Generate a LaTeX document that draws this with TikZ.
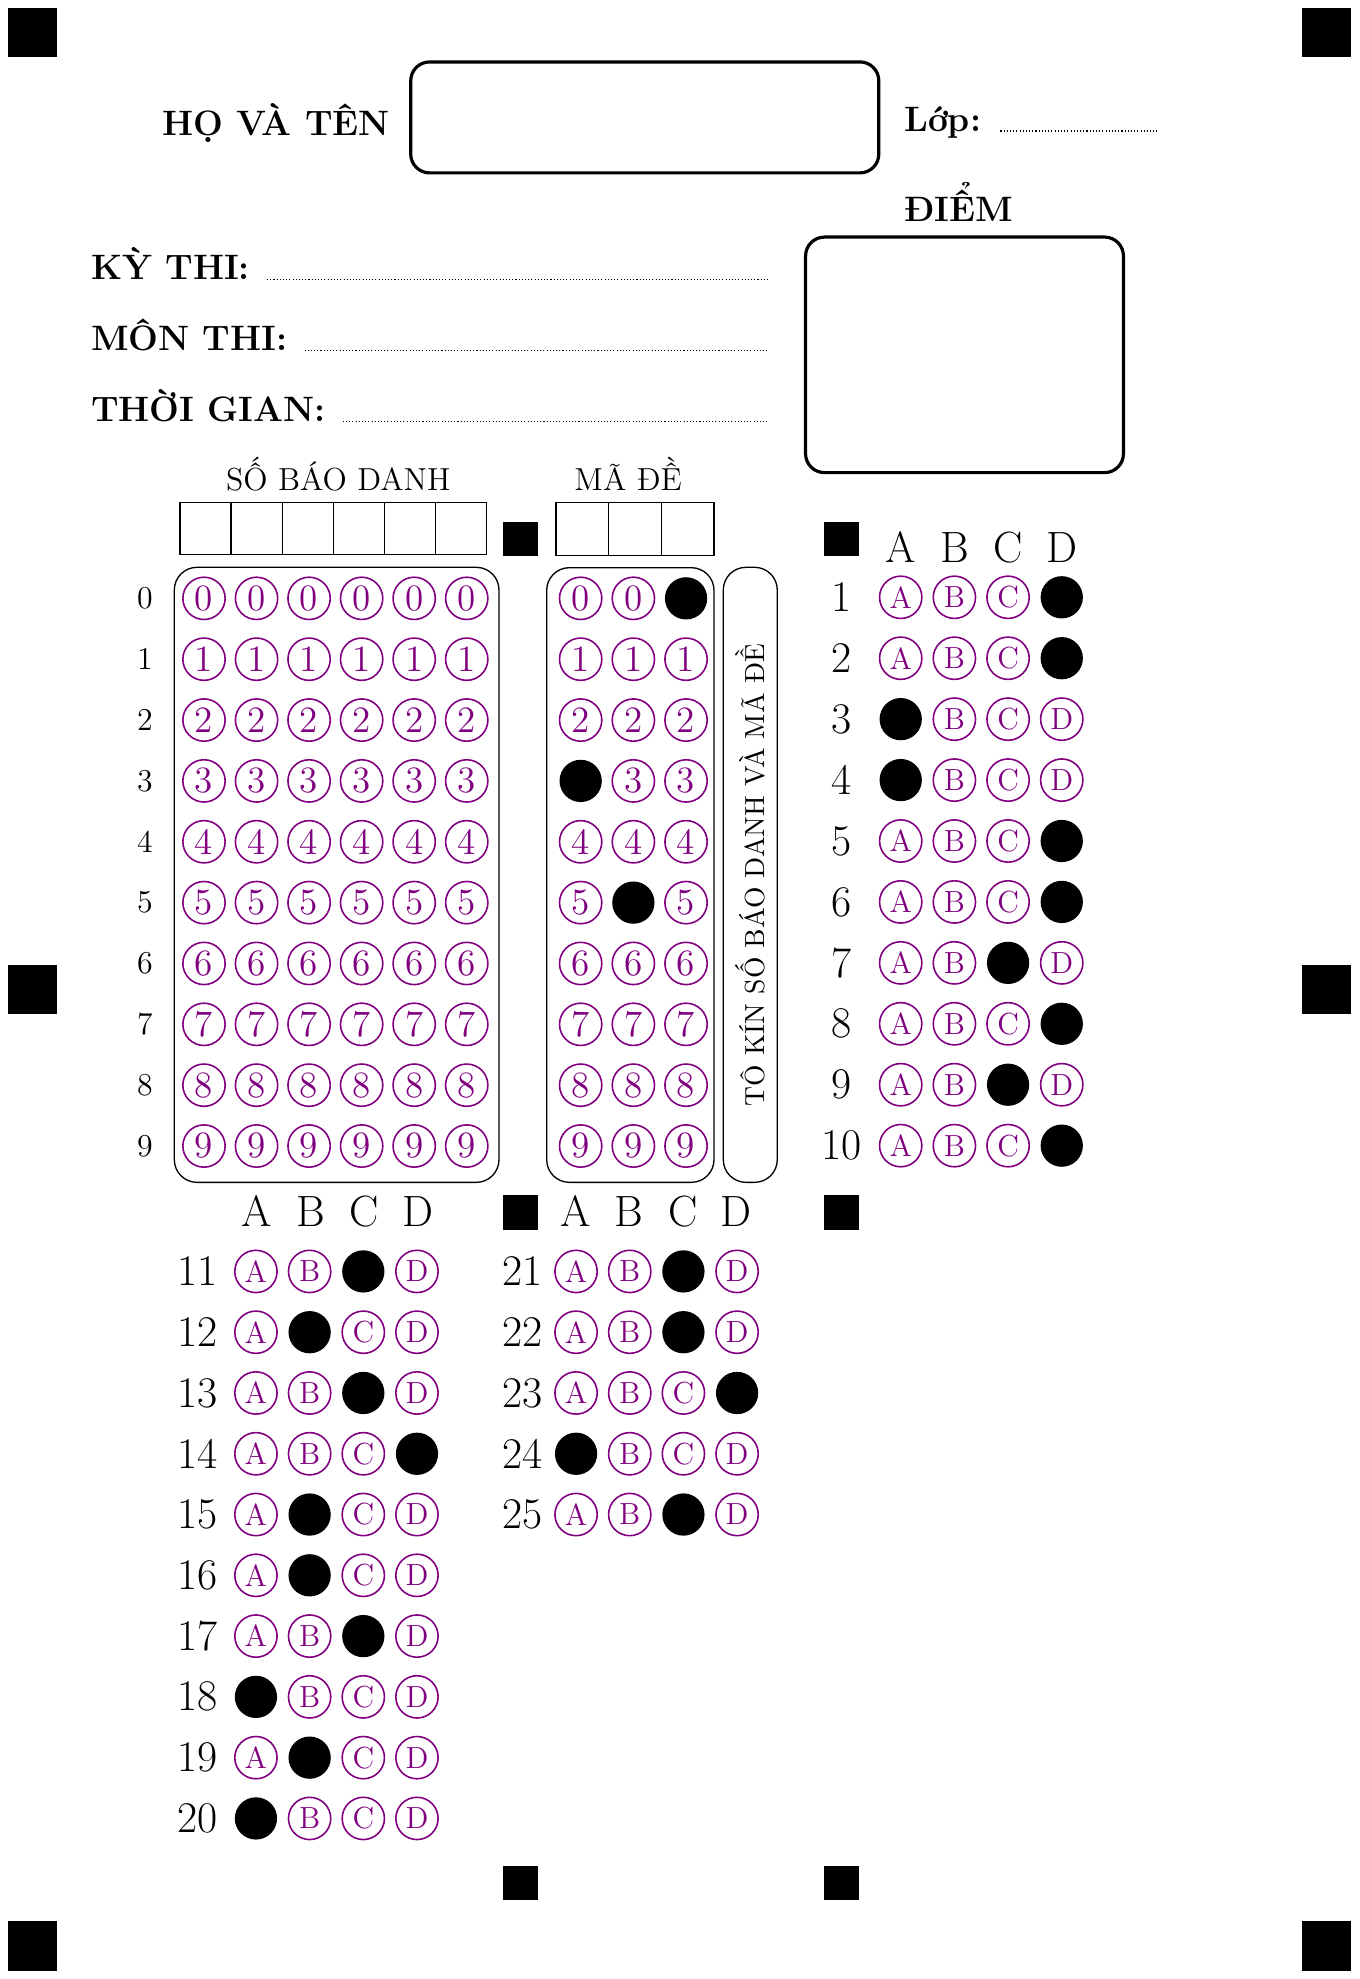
\documentclass[tikz,border=0pt]{standalone}
\usepackage{fontspec}
\usepackage{xcolor}
\def\bigmark{rectangle +(0.65,0.65)}
\def\smallmark{rectangle +(0.46,0.46)}
\definecolor{bubble ink}{RGB}{128,0,128}
\colorlet{mark fill}{black}
\def\titlefont{\fontsize{13.3}{15}\selectfont\bfseries}
\def\labelfont{\fontsize{12}{14}\selectfont}
\def\digitfont{\fontsize{14}{16}\selectfont}
\def\letterfont{\fontsize{11.5}{13}\selectfont}
\def\numfont{\fontsize{16.5}{18}\selectfont}
\tikzset{bubble/.style={circle, draw=bubble ink, text=bubble ink, line width=0.6pt,
        minimum size=0.56cm, inner sep=0pt},
    marked/.style={circle, fill=mark fill, text=mark fill, minimum size=0.56cm, inner sep=0pt},
    marker/.style={fill=mark fill},
    frame/.style={draw, rounded corners=0.3cm, line width=0.5pt},
    bigbox/.style={draw, rounded corners=0.25cm, line width=1.2pt},
    cell/.style={draw, line width=0.5pt},
    dots/.style={draw, dash pattern=on 0.4pt off 0.8pt, line width=0.4pt},
    title/.style={font=\titlefont, inner sep=0pt},
    head/.style={font=\numfont, inner sep=0pt, anchor=base}}

\begin{document}
\begin{tikzpicture}[y=-1cm]
    \useasboundingbox (0,0) rectangle (18,26.212);
    % markers
    \fill[marker] (0.11,0.11)   \bigmark;
    \fill[marker] (17.24,0.11)  \bigmark;
    \fill[marker] (0.11,12.78)  \bigmark;
    \fill[marker] (17.24,12.78) \bigmark;
    \fill[marker] (0.11,25.45)  \bigmark;
    \fill[marker] (17.24,25.45) \bigmark;
    \foreach \x in {6.66,10.92}
        \foreach \y in {6.91,15.83,24.71}
            \fill[marker] (\x,\y) \smallmark;

    % header
    \draw[bigbox] (5.44,0.82) rectangle (11.64,2.29);
    \node[title, anchor=base east] (hoten) at (5.17,1.79) {HỌ VÀ TÊN};
    \node[title, anchor=base west] (lop) at (11.97,1.735) {Lớp:};
    \coordinate (lop end) at (15.33,1.735);
    \draw[dots] ([xshift=0.25cm]lop.base east) -- (lop end);
    \node[title, anchor=base] (diem) at (12.7,2.93) {ĐIỂM};
    \draw[bigbox] (10.67,3.14) rectangle (14.88,6.26);
    \foreach \t/\name/\y in {KỲ THI:/kythi/3.70, MÔN THI:/monthi/4.64, THỜI GIAN:/thoigian/5.58}{
        \node[title, anchor=base west] (\name) at (1.2,\y) {\t};
        \coordinate (\name end) at (10.17,\y);
        \draw[dots] ([xshift=0.22cm]\name.base east) -- (\name end);
    }

    % so bao danh
    \node[font=\labelfont, anchor=base] (sbd) at (4.48,6.49) {SỐ BÁO DANH};
    \foreach \c in {0,...,5}
        \draw[cell] ({2.384+0.677*\c},6.655) rectangle +(0.677,0.685);
    \draw[frame] (2.309,7.514) rectangle (6.609,15.66);
    \foreach \r in {0,...,9}{
        \node[font=\labelfont] (row\r) at (1.92,{7.925+0.806*\r}) {\r};
        \foreach \c in {0,...,5}
            \node[bubble, font=\digitfont] (sbd\c-\r) at ({2.702+0.696*\c},{7.925+0.806*\r}) {\r};
    }

    % ma de
    \node[font=\labelfont, anchor=base] (made) at (8.32,6.49) {MÃ ĐỀ};
    \foreach \c in {0,...,2}
        \draw[cell] ({7.364+0.698*\c},6.655) rectangle +(0.698,0.7);
    \draw[frame] (7.241,7.519) rectangle (9.457,15.66);
    \foreach \c/\m in {0/3,1/5,2/0}
        \foreach \r in {0,...,9}{
            \ifnum\r=\m \def\sty{marked}\else \def\sty{bubble}\fi
            \node[\sty, font=\digitfont] (md\c-\r) at ({7.691+0.698*\c},{7.925+0.806*\r}) {\r};
        }
    \draw[frame] (9.58,7.514) rectangle (10.295,15.66);
    \node[rotate=90, font=\fontsize{10.4}{12}\selectfont] (tokin) at (9.937,11.59) {TÔ KÍN SỐ BÁO DANH VÀ MÃ ĐỀ};

    % answers 1-10
    \foreach \L [count=\k from 0] in {A,B,C,D}
        \node[head] (ha\L) at ({11.93+0.711*\k},7.45) {\L};
    \foreach \q/\a [count=\r from 0] in {1/4,2/4,3/1,4/1,5/4,6/4,7/3,8/4,9/3,10/4}{
        \node[font=\numfont] (q\q) at (11.15,{7.911+0.807*\r}) {\q};
        \foreach \L [count=\k] in {A,B,C,D}{
            \ifnum\k=\a \def\sty{marked}\else \def\sty{bubble}\fi
            \node[\sty, font=\letterfont] (q\q\L) at ({11.93+0.711*(\k-1)},{7.911+0.807*\r}) {\L};
        }
    }

    % answers 11-20
    \foreach \L [count=\k from 0] in {A,B,C,D}
        \node[head] (hb\L) at ({3.40+0.711*\k},16.24) {\L};
    \foreach \q/\a [count=\r from 0] in {11/3,12/2,13/3,14/4,15/2,16/2,17/3,18/1,19/2,20/1}{
        \node[font=\numfont] (q\q) at (2.62,{16.84+0.805*\r}) {\q};
        \foreach \L [count=\k] in {A,B,C,D}{
            \ifnum\k=\a \def\sty{marked}\else \def\sty{bubble}\fi
            \node[\sty, font=\letterfont] (q\q\L) at ({3.39+0.711*(\k-1)},{16.84+0.805*\r}) {\L};
        }
    }

    % answers 21-25
    \foreach \L [count=\k from 0] in {A,B,C,D}
        \node[head] (hc\L) at ({7.62+0.711*\k},16.24) {\L};
    \foreach \q/\a [count=\r from 0] in {21/3,22/3,23/4,24/1,25/3}{
        \node[font=\numfont] (q\q) at (6.92,{16.84+0.805*\r}) {\q};
        \foreach \L [count=\k] in {A,B,C,D}{
            \ifnum\k=\a \def\sty{marked}\else \def\sty{bubble}\fi
            \node[\sty, font=\letterfont] (q\q\L) at ({7.63+0.711*(\k-1)},{16.84+0.805*\r}) {\L};
        }
    }
\end{tikzpicture}
\end{document}
